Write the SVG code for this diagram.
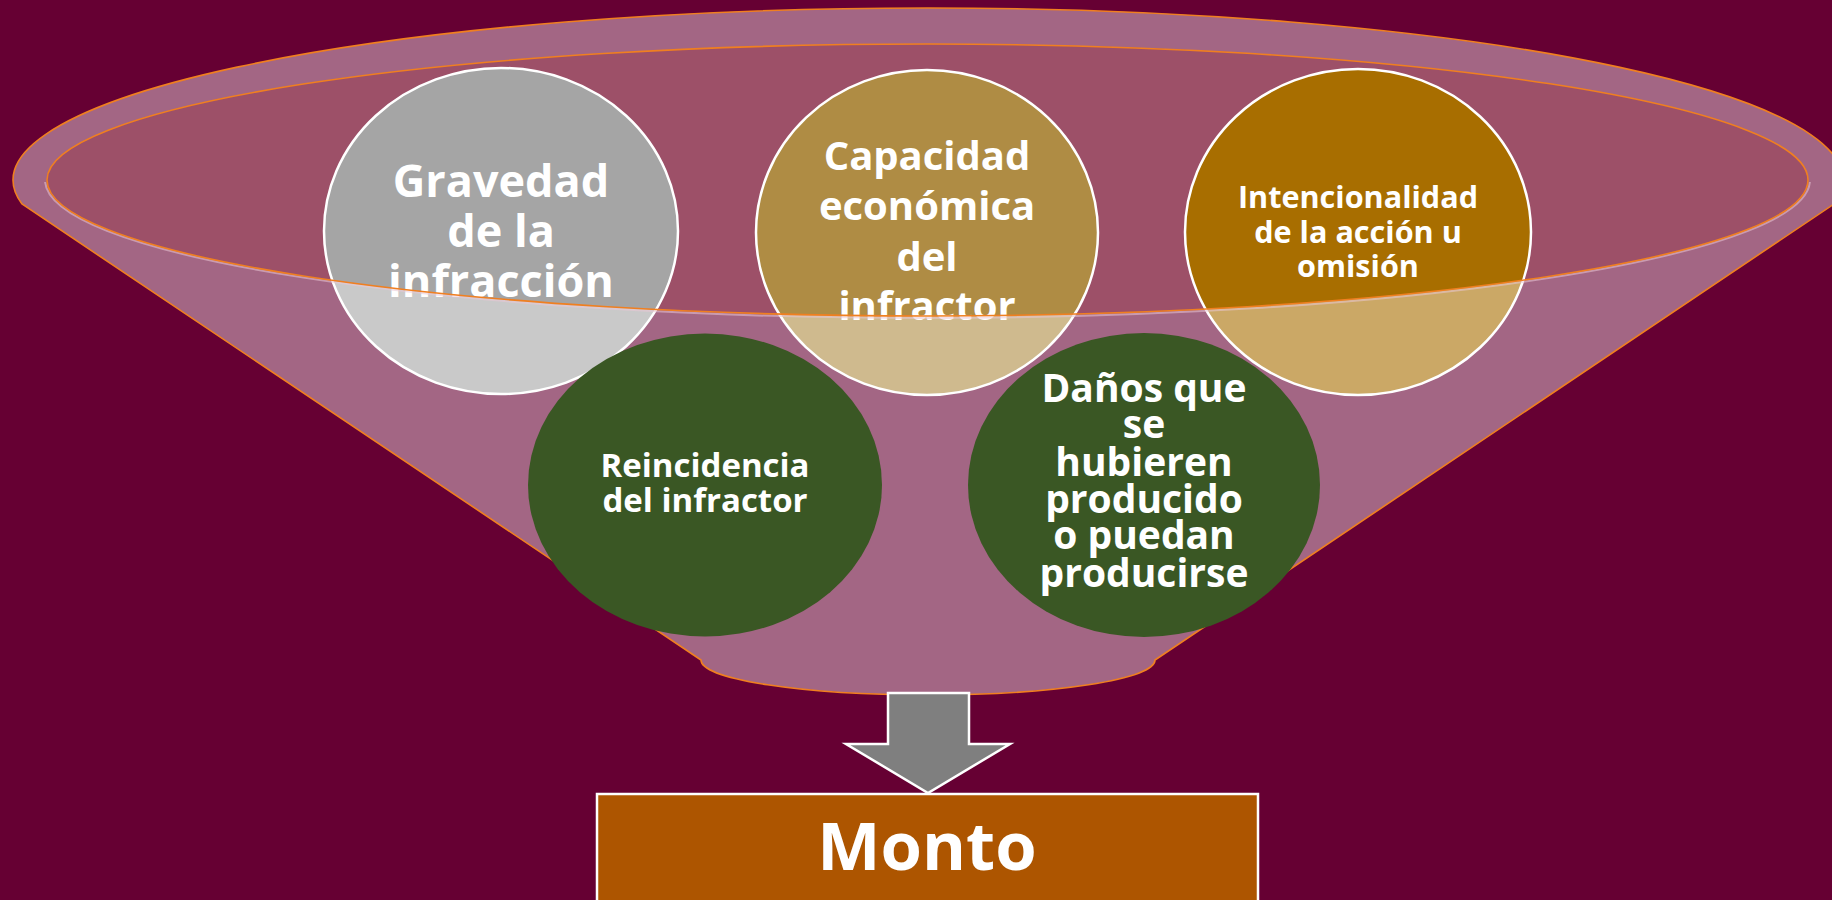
<svg xmlns="http://www.w3.org/2000/svg" width="1832" height="900" viewBox="0 0 1832 900">
  <style>
    .t { font-family: "Open Sans", "Liberation Sans", sans-serif; font-weight: 700; fill: #FFFFFF; text-anchor: middle; }
    .top { stroke: #FFFFFF; stroke-width: 2.5; }
    .orange { fill: none; stroke: #F07F20; stroke-width: 1.6; }
  </style>
  <defs>
    <clipPath id="lowerHalf"><rect x="0" y="182" width="1832" height="200"/></clipPath>
  </defs>
  <rect x="0" y="0" width="1832" height="900" fill="#660033"/>

  <g id="funnel-opening">
    <ellipse cx="927.5" cy="180" rx="880.5" ry="136" fill="#9D5068"/>
  </g>

  <g id="node-gravedad">
    <ellipse class="top" cx="501" cy="231" rx="177" ry="163" fill="#A5A5A5"/>
    <text class="t" font-size="45" x="501" y="197">Gravedad</text>
    <text class="t" font-size="45" x="501" y="247">de la</text>
    <text class="t" font-size="45" x="501" y="297">infracción</text>
  </g>

  <g id="node-capacidad">
    <ellipse class="top" cx="927" cy="232.5" rx="171" ry="162.5" fill="#AF8C44"/>
    <text class="t" font-size="40" x="927" y="170">Capacidad</text>
    <text class="t" font-size="40" x="927" y="220">económica</text>
    <text class="t" font-size="40" x="927" y="271">del</text>
    <text class="t" font-size="40" x="927" y="320">infractor</text>
  </g>

  <g id="node-intencionalidad">
    <ellipse class="top" cx="1358" cy="232" rx="173" ry="163" fill="#A86E00"/>
    <text class="t" font-size="30.6" x="1358" y="208">Intencionalidad</text>
    <text class="t" font-size="30.6" x="1358" y="243">de la acción u</text>
    <text class="t" font-size="30.6" x="1358" y="277">omisión</text>
  </g>

  <g id="funnel">
    <path d="M 22 204 A 915 172 0 1 1 1834 204 L 1155 660 A 227 35 0 0 1 701 660 Z M 47 180 A 880.5 136 0 1 0 1808 180 A 880.5 136 0 1 0 47 180 Z" fill="#FFFFFF" fill-opacity="0.4" fill-rule="evenodd"/>
    <ellipse cx="927.5" cy="180" rx="882.5" ry="138" fill="none" stroke="#E9C6D6" stroke-width="2" stroke-opacity="0.55" clip-path="url(#lowerHalf)"/>
    <path class="orange" d="M 22 204 A 915 172 0 1 1 1834 204 L 1155 660 A 227 35 0 0 1 701 660 Z"/>
    <ellipse class="orange" cx="927.5" cy="180" rx="880.5" ry="136"/>
  </g>

  <g id="node-reincidencia">
    <ellipse cx="705" cy="485" rx="177" ry="151.5" fill="#3A5724"/>
    <text class="t" font-size="33" x="705" y="477">Reincidencia</text>
    <text class="t" font-size="33" x="705" y="512">del infractor</text>
  </g>

  <g id="node-danos">
    <ellipse cx="1144" cy="485" rx="176" ry="152" fill="#3A5724"/>
    <text class="t" font-size="39" x="1144" y="402">Daños que</text>
    <text class="t" font-size="39" x="1144" y="438">se</text>
    <text class="t" font-size="39" x="1144" y="476">hubieren</text>
    <text class="t" font-size="39" x="1144" y="513">producido</text>
    <text class="t" font-size="39" x="1144" y="549">o puedan</text>
    <text class="t" font-size="39" x="1144" y="587">producirse</text>
  </g>

  <g id="connectors">
    <path d="M 888 693 L 969 693 L 969 744 L 1010 744 L 928 793 L 846 744 L 888 744 Z" fill="#7F7F7F" stroke="#FFFFFF" stroke-width="2.5" stroke-linejoin="miter"/>
  </g>

  <g id="node-monto">
    <rect x="597" y="794" width="661" height="110" fill="#AD5500" stroke="#FFFFFF" stroke-width="2.5"/>
    <text class="t" font-size="67" x="927" y="870">Monto</text>
  </g>
</svg>
